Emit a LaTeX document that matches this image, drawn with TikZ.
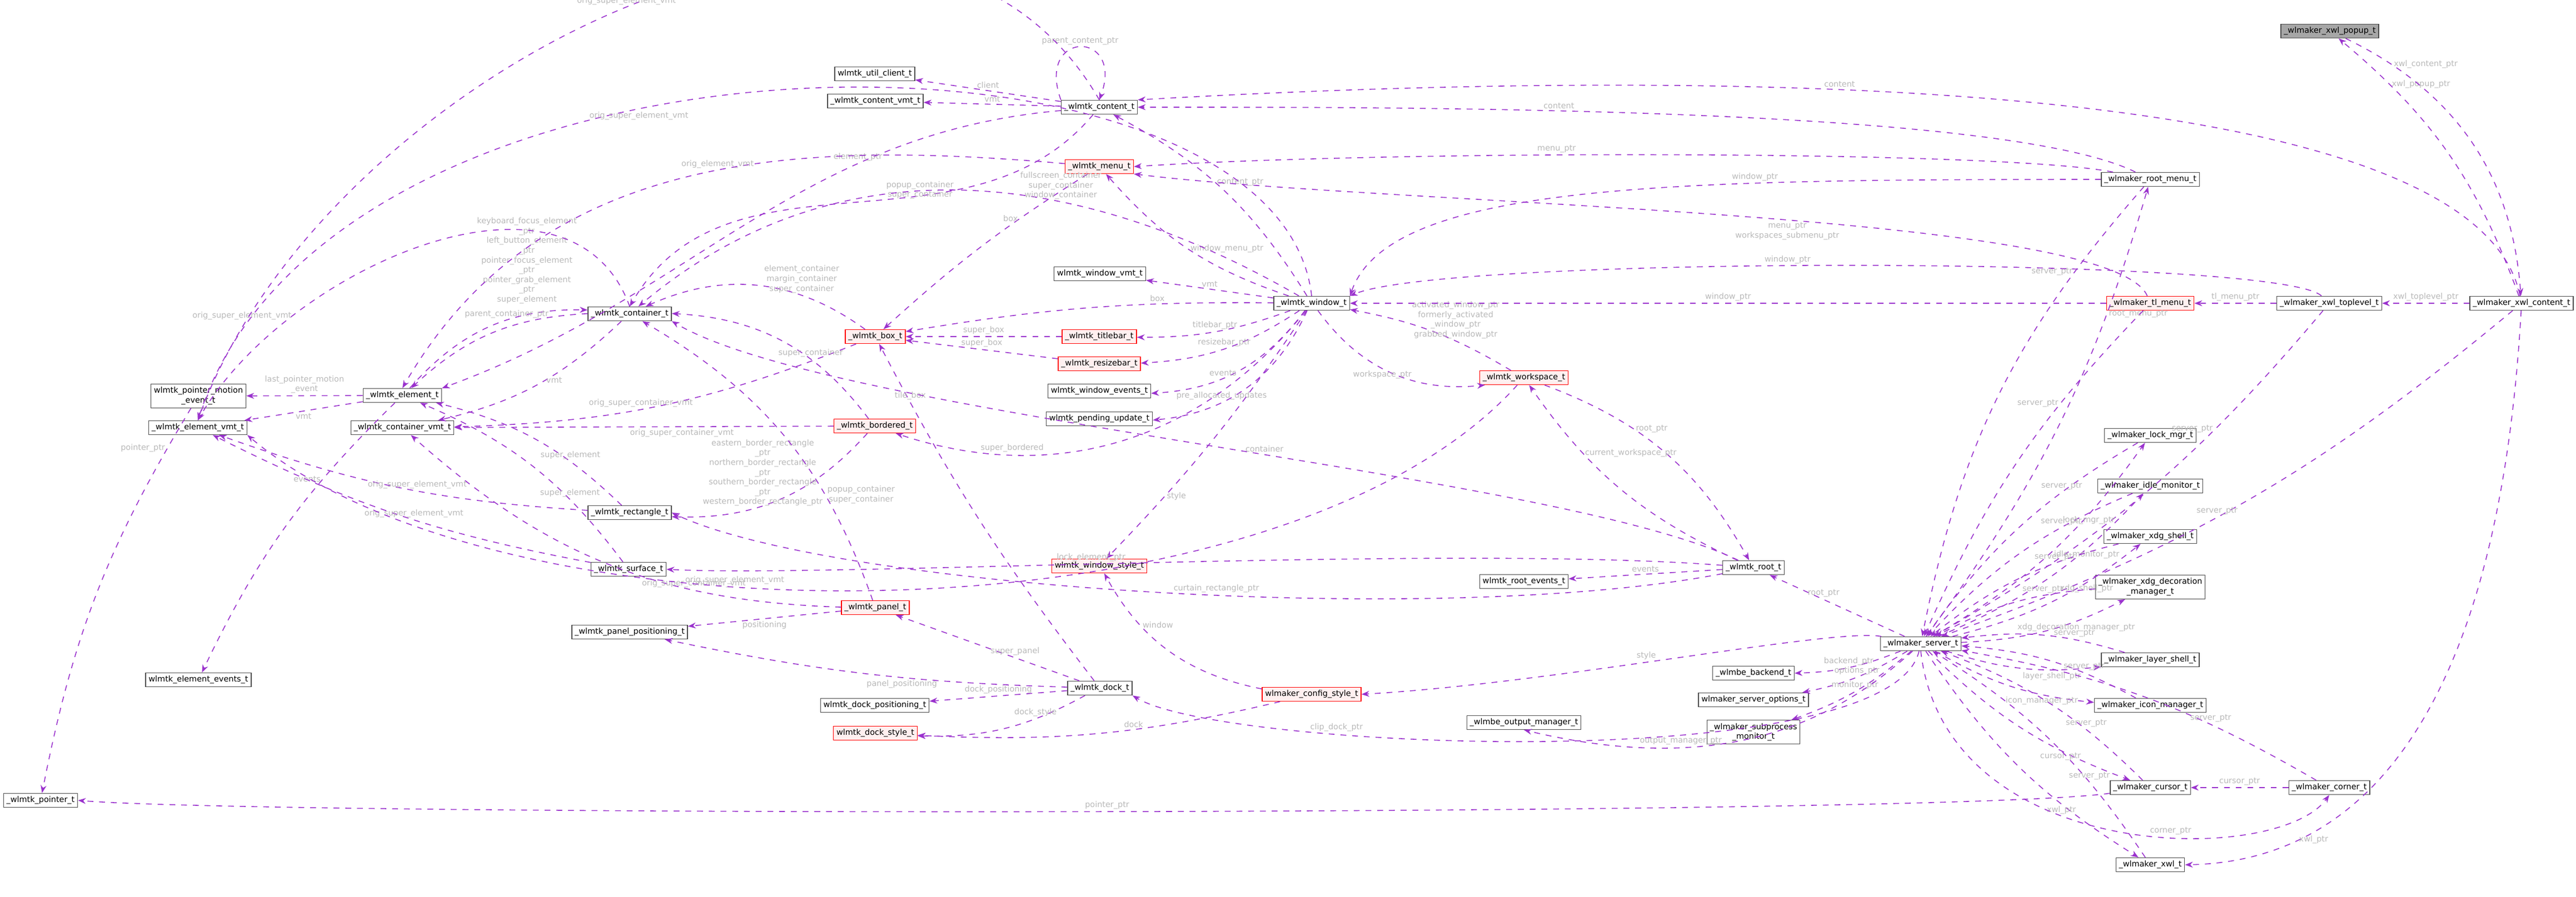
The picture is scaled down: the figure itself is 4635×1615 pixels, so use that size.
\documentclass[tikz,border=0pt]{standalone}
\usepackage{fontspec}
\setmainfont{DejaVu Sans}
\usetikzlibrary{arrows.meta}
\definecolor{edgec}{HTML}{9A32CD}

\begin{document}
\begin{tikzpicture}[x=0.01cm,y=-0.01cm,
  every node/.style={font=\fontsize{4.1}{5}\selectfont},
  cls/.style={draw=gray!60!black,fill=white,inner sep=1.5pt,minimum height=0.25cm,align=center},
  redcls/.style={cls,draw=red,fill=red!6},
  ed/.style={draw=edgec,dashed,-{Stealth[length=4pt,width=3pt]},line width=.45pt},
  lbl/.style={text=gray!55,align=center,inner sep=1pt}]
  \useasboundingbox (0,0) rectangle (4635,1615);

  % left part
  \node[cls] (pme)  at (357,713)  {wlmtk\_pointer\_motion\\\_event\_t};
  \node[cls] (evmt) at (356,770)  {\_wlmtk\_element\_vmt\_t};
  \node[cls] (eev)  at (357,1224) {wlmtk\_element\_events\_t};
  \node[cls] (ptr)  at (73,1441)  {\_wlmtk\_pointer\_t};
  \node[cls] (elem) at (724,712)  {\_wlmtk\_element\_t};
  \node[cls] (cvmt) at (724,770)  {\_wlmtk\_container\_vmt\_t};
  \node[cls] (cont) at (1133,565) {\_wlmtk\_container\_t};
  \node[cls] (rect) at (1133,923) {\_wlmtk\_rectangle\_t};
  \node[cls] (surf) at (1131,1025) {\_wlmtk\_surface\_t};
  \node[cls] (ppos) at (1133,1138) {\_wlmtk\_panel\_positioning\_t};

  % middle part
  \node[cls] (ucl)  at (1574,133) {wlmtk\_util\_client\_t};
  \node[cls] (ctvm) at (1575,182) {\_wlmtk\_content\_vmt\_t};
  \node[cls] (ctnt) at (1978,193) {\_wlmtk\_content\_t};
  \node[redcls] (menu) at (1978,300) {\_wlmtk\_menu\_t};
  \node[cls] (wvmt) at (1979,493) {wlmtk\_window\_vmt\_t};
  \node[cls] (win)  at (2360,546) {\_wlmtk\_window\_t};
  \node[redcls] (box) at (1575,606) {\_wlmtk\_box\_t};
  \node[redcls] (tbar) at (1978,606) {\_wlmtk\_titlebar\_t};
  \node[redcls] (rbar) at (1978,655) {\_wlmtk\_resizebar\_t};
  \node[cls] (wev)  at (1978,704) {wlmtk\_window\_events\_t};
  \node[cls] (pupd) at (1978,754) {wlmtk\_pending\_update\_t};
  \node[redcls] (bord) at (1574,767) {\_wlmtk\_bordered\_t};
  \node[redcls] (wsp)  at (2742,680) {\_wlmtk\_workspace\_t};
  \node[redcls] (wsty) at (1978,1019) {wlmtk\_window\_style\_t};
  \node[redcls] (pan)  at (1575,1094) {\_wlmtk\_panel\_t};
  \node[cls] (dock) at (1979,1239) {\_wlmtk\_dock\_t};
  \node[cls] (dpos) at (1574,1270) {wlmtk\_dock\_positioning\_t};
  \node[redcls] (dsty) at (1575,1320) {wlmtk\_dock\_style\_t};
  \node[redcls] (csty) at (2360,1250) {wlmaker\_config\_style\_t};

  % right part
  \node[cls,fill=gray!70] (pop) at (4192,56) {\_wlmaker\_xwl\_popup\_t};
  \node[cls] (rmen) at (3869,323) {\_wlmaker\_root\_menu\_t};
  \node[redcls] (tlm) at (3869,546) {\_wlmaker\_tl\_menu\_t};
  \node[cls] (xtop) at (4191,546) {\_wlmaker\_xwl\_toplevel\_t};
  \node[cls] (xcon) at (4537,546) {\_wlmaker\_xwl\_content\_t};
  \node[cls] (lock) at (3869,784) {\_wlmaker\_lock\_mgr\_t};
  \node[cls] (idle) at (3869,875) {\_wlmaker\_idle\_monitor\_t};
  \node[cls] (xdg)  at (3869,966) {\_wlmaker\_xdg\_shell\_t};
  \node[cls] (deco) at (3869,1057) {\_wlmaker\_xdg\_decoration\\\_manager\_t};
  \node[cls] (root) at (3155,1022) {\_wlmtk\_root\_t};
  \node[cls] (rev)  at (2742,1047) {wlmtk\_root\_events\_t};
  \node[cls] (srv)  at (3456,1159) {\_wlmaker\_server\_t};
  \node[cls] (lsh)  at (3869,1188) {\_wlmaker\_layer\_shell\_t};
  \node[cls] (bknd) at (3155,1212) {\_wlmbe\_backend\_t};
  \node[cls] (opts) at (3155,1260) {wlmaker\_server\_options\_t};
  \node[cls] (outm) at (2742,1301) {\_wlmbe\_output\_manager\_t};
  \node[cls] (subp) at (3155,1318) {\_wlmaker\_subprocess\\\_monitor\_t};
  \node[cls] (icon) at (3869,1270) {\_wlmaker\_icon\_manager\_t};
  \node[cls] (curs) at (3869,1418) {\_wlmaker\_cursor\_t};
  \node[cls] (corn) at (4191,1418) {\_wlmaker\_corner\_t};
  \node[cls] (xwl)  at (3869,1557) {\_wlmaker\_xwl\_t};

  % element and container
  \draw[ed] (elem) -- node[lbl,above] {last\_pointer\_motion\\\_event} (pme);
  \draw[ed] (elem) -- node[lbl,below] {vmt} (evmt);
  \draw[ed] (elem) to[bend right=10] node[lbl,pos=.3,left] {events} (eev);
  \draw[ed] (elem) to[bend left=25] node[lbl,pos=.6,above] {parent\_container\_ptr} (cont);
  \draw[ed] (cont) to[bend right=20] node[lbl,pos=.3,above=8pt] {keyboard\_focus\_element\\\_ptr\\left\_button\_element\\\_ptr\\pointer\_focus\_element\\\_ptr\\pointer\_grab\_element\\\_ptr\\super\_element} (elem);
  \draw[ed] (cont) to[bend left=15] node[lbl,pos=.4,below] {vmt} (cvmt);
  \draw[ed] (cont.north) to[out=110,in=60] node[lbl,pos=.75,left] {orig\_super\_element\_vmt} (evmt.north);
  \draw[ed] (pme) to[bend right=10] node[lbl,pos=.1,left] {pointer\_ptr} (ptr);
  \draw[ed] (rect) to[bend right=15] node[lbl,pos=.3,above] {super\_element} (elem);
  \draw[ed] (rect) to[bend left=8] node[lbl,pos=.45,above] {orig\_super\_element\_vmt} (evmt);
  \draw[ed] (surf) to[bend right=15] node[lbl,pos=.3,above] {super\_element} (elem);
  \draw[ed] (surf) to[bend left=8] node[lbl,pos=.45,above] {orig\_super\_element\_vmt} (evmt);

  % box, bordered, panel, dock
  \draw[ed] (box) to[bend right=30] node[lbl,pos=.3,above] {element\_container\\margin\_container\\super\_container} (cont);
  \draw[ed] (box) to[bend left=10] node[lbl,pos=.55,above] {orig\_super\_container\_vmt} (cvmt);
  \draw[ed] (bord) to[bend right=25] node[lbl,pos=.35,above] {super\_container} (cont);
  \draw[ed] (bord) -- node[lbl,pos=.4,below] {orig\_super\_container\_vmt} (cvmt);
  \draw[ed] (bord) to[bend left=25] node[lbl,pos=.25,left] {eastern\_border\_rectangle\\\_ptr\\northern\_border\_rectangle\\\_ptr\\southern\_border\_rectangle\\\_ptr\\western\_border\_rectangle\_ptr} (rect);
  \draw[ed] (pan) to[bend right=20] node[lbl,pos=.3,right] {popup\_container\\super\_container} (cont);
  \draw[ed] (pan) to[bend left=20] node[lbl,pos=.3,above] {orig\_super\_container\_vmt} (cvmt);
  \draw[ed] (pan) -- node[lbl,below] {positioning} (ppos);
  \draw[ed] (dock) -- node[lbl,pos=.35,above] {super\_panel} (pan);
  \draw[ed] (dock) to[bend left=5] node[lbl,pos=.4,below] {panel\_positioning} (ppos);
  \draw[ed] (dock) -- node[lbl,above] {dock\_positioning} (dpos);
  \draw[ed] (dock) to[bend left=15] node[lbl,pos=.3,above] {dock\_style} (dsty);
  \draw[ed] (dock) to[bend left=5] node[lbl,pos=.85,above] {tile\_box} (box);
  \draw[ed] (csty) to[bend left=8] node[lbl,pos=.4,above] {dock} (dsty);
  \draw[ed] (csty) to[bend left=25] node[lbl,pos=.7,right] {window} (wsty);

  % content and menu
  \draw[ed] (ctnt) -- node[lbl,above] {client} (ucl);
  \draw[ed] (ctnt) -- node[lbl,above] {vmt} (ctvm);
  \draw[ed] (ctnt.north west) to[out=110,in=70,looseness=5] node[lbl,above] {parent\_content\_ptr} (ctnt.north);
  \draw[ed] (ctnt) to[out=185,in=20] node[lbl,pos=.3,above] {element\_ptr} (elem.north east);
  \draw[ed] (ctnt) to[out=230,in=60] node[lbl,pos=.3,left] {popup\_container\\super\_container} (cont.north);
  \draw[ed] (ctnt.north) to[out=120,in=70] node[lbl,pos=.5,above] {orig\_super\_element\_vmt} (evmt.north);
  \draw[ed] (menu) to[out=175,in=60] node[lbl,pos=.45,above] {orig\_element\_vmt} (elem.north);
  \draw[ed] (menu) to[bend right=5] node[lbl,pos=.3,left] {box} (box);

  % window
  \draw[ed] (win) to[bend right=15] node[lbl,pos=.55,right] {content\_ptr} (ctnt);
  \draw[ed] (win) to[bend left=15] node[lbl,pos=.5,right] {window\_menu\_ptr} (menu);
  \draw[ed] (win) -- node[lbl,above] {vmt} (wvmt);
  \draw[ed] (win) to[bend right=5] node[lbl,pos=.3,above] {box} (box);
  \draw[ed] (win) to[bend left=10] node[lbl,above] {titlebar\_ptr} (tbar);
  \draw[ed] (win) to[bend left=15] node[lbl,above] {resizebar\_ptr} (rbar);
  \draw[ed] (win) to[bend left=25] node[lbl,pos=.6,above] {events} (wev);
  \draw[ed] (win) to[bend left=30] node[lbl,pos=.65,above] {pre\_allocated\_updates} (pupd);
  \draw[ed] (win) to[bend left=35] node[lbl,pos=.75,above] {super\_bordered} (bord);
  \draw[ed] (win) to[out=150,in=40] node[lbl,pos=.35,above] {fullscreen\_container\\super\_container\\window\_container} (cont);
  \draw[ed] (win.north) .. controls (2300,0) and (600,0) .. node[lbl,pos=.6,below] {orig\_super\_element\_vmt} (evmt.north);
  \draw[ed] (win) to[bend left=5] node[lbl,pos=.75,right] {style} (wsty);
  \draw[ed] (tbar) -- node[lbl,above] {super\_box} (box);
  \draw[ed] (rbar) -- node[lbl,above] {super\_box} (box);
  \draw[ed] (win) to[bend right=30] node[lbl,pos=.45,below] {workspace\_ptr} (wsp);
  \draw[ed] (wsp) to[bend right=10] node[lbl,pos=.35,above] {activated\_window\_ptr\\formerly\_activated\\\_window\_ptr\\grabbed\_window\_ptr} (win);
  \draw[ed] (wsp) .. controls (2300,1170) and (900,1170) .. node[lbl,pos=.6,above] {orig\_super\_element\_vmt} (evmt.south east);

  % root and workspace
  \draw[ed] (wsp) to[bend left=20] node[lbl,pos=.35,right] {root\_ptr} (root);
  \draw[ed] (root) to[bend left=15] node[lbl,pos=.7,right] {current\_workspace\_ptr} (wsp);
  \draw[ed] (root) -- node[lbl,above] {events} (rev);
  \draw[ed] (root) .. controls (2600,1130) and (1500,1060) .. node[lbl,pos=.45,above] {curtain\_rectangle\_ptr} (rect.east);
  \draw[ed] (root) .. controls (2600,980) and (1500,1040) .. node[lbl,pos=.55,above] {lock\_element\_ptr} (surf.east);
  \draw[ed] (root) .. controls (2800,850) and (1500,750) .. node[lbl,pos=.45,above] {container} (cont.south east);

  % wlmaker
  \draw[ed] (rmen) .. controls (3600,190) and (2500,193) .. node[lbl,pos=.6,above] {content} (ctnt.east);
  \draw[ed] (rmen) .. controls (3600,270) and (2500,270) .. node[lbl,pos=.6,above] {menu\_ptr} (menu.east);
  \draw[ed] (rmen.west) .. controls (3000,323) and (2500,330) .. node[lbl,pos=.3,above] {window\_ptr} (win.north east);
  \draw[ed] (rmen) to[bend right=15] node[lbl,pos=.2,left] {server\_ptr} (srv);
  \draw[ed] (srv) to[bend right=10] node[lbl,pos=.75,right] {root\_menu\_ptr} (rmen);
  \draw[ed] (tlm) .. controls (3800,380) and (2500,370) .. node[lbl,pos=.45,below] {menu\_ptr\\workspaces\_submenu\_ptr} (menu.south east);
  \draw[ed] (tlm) -- node[lbl,above] {window\_ptr} (win);
  \draw[ed] (tlm) to[bend right=10] node[lbl,pos=.3,left] {server\_ptr} (srv);
  \draw[ed] (xtop) -- node[lbl,above] {tl\_menu\_ptr} (tlm);
  \draw[ed] (xtop) .. controls (4100,460) and (2600,460) .. node[lbl,pos=.55,above] {window\_ptr} (win.north east);
  \draw[ed] (xtop) to[bend left=10] node[lbl,pos=.3,left] {server\_ptr} (srv);
  \draw[ed] (xcon) -- node[lbl,above] {xwl\_toplevel\_ptr} (xtop);
  \draw[ed] (xcon) .. controls (4450,120) and (3000,125) .. node[lbl,pos=.6,above] {content} (ctnt.north east);
  \draw[ed] (xcon) to[bend right=15] node[lbl,pos=.8,right] {xwl\_popup\_ptr} (pop);
  \draw[ed] (pop) to[bend left=30] node[lbl,pos=.15,right] {xwl\_content\_ptr} (xcon);
  \draw[ed] (xcon) to[bend left=10] node[lbl,pos=.55,above] {server\_ptr} (srv);
  \draw[ed] (xcon) .. controls (4500,1200) and (4300,1550) .. node[lbl,pos=.8,right] {xwl\_ptr} (xwl.east);

  % server satellites
  \foreach \sat/\lab in {lock/lock\_mgr\_ptr,idle/idle\_monitor\_ptr,xdg/xdg\_shell\_ptr,
      deco/xdg\_decoration\_manager\_ptr,lsh/layer\_shell\_ptr,icon/icon\_manager\_ptr,
      curs/cursor\_ptr,xwl/xwl\_ptr}{
    \draw[ed] (srv) to[bend right=12] node[lbl,pos=.7,below] {\lab} (\sat);
    \draw[ed] (\sat) to[bend right=12] node[lbl,pos=.3,above] {server\_ptr} (srv);
  }
  \draw[ed] (srv) -- node[lbl,pos=.6,above] {root\_ptr} (root);
  \draw[ed] (srv) to[bend left=10] node[lbl,above] {backend\_ptr} (bknd);
  \draw[ed] (srv) to[bend left=10] node[lbl,above] {options\_ptr} (opts);
  \draw[ed] (srv) to[bend left=10] node[lbl,above] {monitor\_ptr} (subp);
  \draw[ed] (srv) .. controls (3300,1300) and (3100,1400) .. node[lbl,pos=.7,above] {output\_manager\_ptr} (outm.south);
  \draw[ed] (srv) .. controls (3300,1130) and (2800,1230) .. node[lbl,pos=.55,above] {style} (csty.east);
  \draw[ed] (srv) .. controls (3400,1400) and (2200,1350) .. node[lbl,pos=.7,above] {clip\_dock\_ptr} (dock.south east);
  \draw[ed] (curs) .. controls (3500,1470) and (500,1470) .. node[lbl,pos=.5,above] {pointer\_ptr} (ptr.east);
  \draw[ed] (corn) -- node[lbl,above] {cursor\_ptr} (curs);
  \draw[ed] (corn) to[bend right=10] node[lbl,pos=.3,above] {server\_ptr} (srv);
  \draw[ed] (srv.south) .. controls (3500,1560) and (4100,1560) .. node[lbl,pos=.6,above] {corner\_ptr} (corn.south);
\end{tikzpicture}
\end{document}
